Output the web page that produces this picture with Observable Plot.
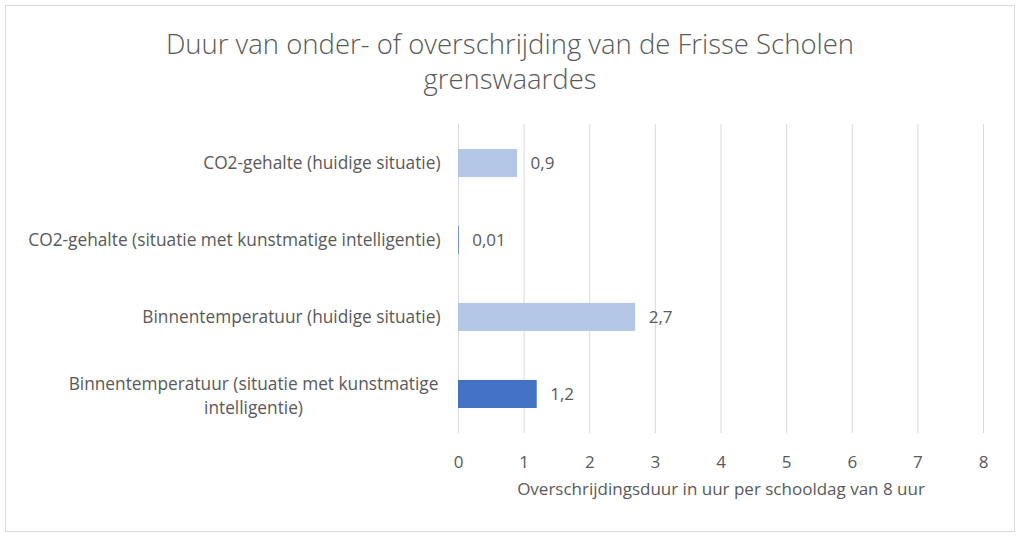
<!DOCTYPE html>
<html>
<head>
<meta charset="utf-8">
<script src="https://cdn.jsdelivr.net/npm/d3@7"></script>
<script src="https://cdn.jsdelivr.net/npm/@observablehq/plot@0.6"></script>
<style>
  html, body { margin: 0; padding: 0; background: #fff; }
  #frame {
    position: absolute; left: 5px; top: 5px; width: 1008px; height: 525px;
    border: 1px solid #d9d9d9; background: #fff; overflow: hidden;
    font-family: "Open Sans", sans-serif;
  }
  #title {
    position: absolute; left: 0; top: 20px; width: 100%; text-align: center;
    font-size: 27.5px; font-weight: 300; color: #595959; line-height: 35px;
  }
  #chart { position: absolute; left: 0; top: 104px; }
</style>
</head>
<body>
<div id="frame">
  <div id="title">Duur van onder- of overschrijding van de Frisse Scholen<br>grenswaardes</div>
  <div id="chart"></div>
</div>
<script>
const categories = [
  "CO2-gehalte (huidige situatie)",
  "CO2-gehalte (situatie met kunstmatige intelligentie)",
  "Binnentemperatuur (huidige situatie)",
  "Binnentemperatuur (situatie met kunstmatige intelligentie)"
];
const values = [0.9, 0.01, 2.7, 1.2];
const scenario = ["huidig", "ki", "huidig", "ki"];
const xTicks = [0, 1, 2, 3, 4, 5, 6, 7, 8];
const xLabel = "Overschrijdingsduur in uur per schooldag van 8 uur";
const wrappedLabel = "Binnentemperatuur (situatie met kunstmatige\nintelligentie)";

const data = categories.map((c, i) => ({category: c, value: values[i], scenario: scenario[i]}));
const fmt = v => String(v).replace(".", ",");
const textColor = "#595959";

const plot = Plot.plot({
  width: 1008,
  height: 420,
  marginLeft: 452,
  marginRight: 31,
  marginTop: 14,
  marginBottom: 97,
  style: {fontFamily: "Open Sans, sans-serif", fontSize: "17px", color: textColor, background: "transparent"},
  x: {domain: [0, 8], ticks: xTicks},
  y: {domain: categories, paddingInner: 0.64, paddingOuter: 0.31},
  color: {domain: ["huidig", "ki"], range: ["#b4c7e7", "#4472c4"]},
  marks: [
    Plot.gridX(xTicks, {stroke: "#d9d9d9", strokeOpacity: 1, strokeWidth: 1}),
    Plot.barX(data, {x: "value", y: "category", fill: "scenario"}),
    Plot.text(data, {x: "value", y: "category", text: d => fmt(d.value), textAnchor: "start", dx: 13, fill: textColor, fontSize: 17}),
    Plot.axisX({ticks: xTicks, tickSize: 0, tickPadding: 22, fontSize: 17, fill: textColor, label: null}),
    Plot.text([xLabel], {frameAnchor: "bottom", dy: 61, fill: textColor, fontSize: 17}),
    Plot.axisY({tickSize: 0, tickPadding: 18, textAnchor: "end", fontSize: 17.3, fill: textColor, label: null,
      tickFormat: d => d === categories[3] ? "" : d}),
    Plot.text([categories[3]], {y: d => d, frameAnchor: "left", text: () => wrappedLabel, textAnchor: "middle", dx: -205, fill: textColor, fontSize: 17.3, lineHeight: 1.38})
  ]
});
document.getElementById("chart").appendChild(plot);
</script>
</body>
</html>
